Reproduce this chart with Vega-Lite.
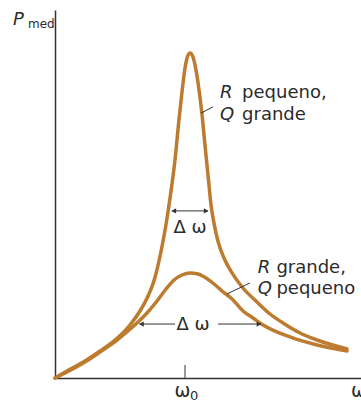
{
  "$schema": "https://vega.github.io/schema/vega-lite/v6.json",
  "width": 306,
  "height": 368,
  "autosize": "none",
  "padding": {"left": 55, "top": 10, "right": 0, "bottom": 25},
  "background": "white",
  "config": {"view": {"stroke": null}},
  "datasets": {
    "curves": [
      {"curve": "sharp", "w": 0, "P": 0},
      {"curve": "sharp", "w": 0.091, "P": 2.15},
      {"curve": "sharp", "w": 0.227, "P": 5.23},
      {"curve": "sharp", "w": 0.341, "P": 8.31},
      {"curve": "sharp", "w": 0.455, "P": 11.69},
      {"curve": "sharp", "w": 0.568, "P": 16.31},
      {"curve": "sharp", "w": 0.644, "P": 20.6},
      {"curve": "sharp", "w": 0.705, "P": 25.2},
      {"curve": "sharp", "w": 0.75, "P": 29.9},
      {"curve": "sharp", "w": 0.785, "P": 35.5},
      {"curve": "sharp", "w": 0.818, "P": 42.0},
      {"curve": "sharp", "w": 0.856, "P": 51.08},
      {"curve": "sharp", "w": 0.879, "P": 57.5},
      {"curve": "sharp", "w": 0.909, "P": 67.08},
      {"curve": "sharp", "w": 0.939, "P": 79.38},
      {"curve": "sharp", "w": 0.962, "P": 88.0},
      {"curve": "sharp", "w": 0.985, "P": 95.38},
      {"curve": "sharp", "w": 1.008, "P": 99.38},
      {"curve": "sharp", "w": 1.023, "P": 100},
      {"curve": "sharp", "w": 1.045, "P": 98.77},
      {"curve": "sharp", "w": 1.068, "P": 94.77},
      {"curve": "sharp", "w": 1.091, "P": 88.62},
      {"curve": "sharp", "w": 1.114, "P": 80.92},
      {"curve": "sharp", "w": 1.136, "P": 71.69},
      {"curve": "sharp", "w": 1.159, "P": 62.46},
      {"curve": "sharp", "w": 1.182, "P": 53.23},
      {"curve": "sharp", "w": 1.205, "P": 47.5},
      {"curve": "sharp", "w": 1.235, "P": 42.0},
      {"curve": "sharp", "w": 1.28, "P": 36.92},
      {"curve": "sharp", "w": 1.341, "P": 32.31},
      {"curve": "sharp", "w": 1.417, "P": 28.0},
      {"curve": "sharp", "w": 1.53, "P": 23.38},
      {"curve": "sharp", "w": 1.629, "P": 19.69},
      {"curve": "sharp", "w": 1.727, "P": 16.92},
      {"curve": "sharp", "w": 1.856, "P": 13.85},
      {"curve": "sharp", "w": 1.985, "P": 11.69},
      {"curve": "sharp", "w": 2.212, "P": 8.92},
      {"curve": "broad", "w": 0, "P": 0},
      {"curve": "broad", "w": 0.091, "P": 1.85},
      {"curve": "broad", "w": 0.227, "P": 4.92},
      {"curve": "broad", "w": 0.341, "P": 8.0},
      {"curve": "broad", "w": 0.47, "P": 11.69},
      {"curve": "broad", "w": 0.553, "P": 14.46},
      {"curve": "broad", "w": 0.621, "P": 16.92},
      {"curve": "broad", "w": 0.697, "P": 20.0},
      {"curve": "broad", "w": 0.773, "P": 23.69},
      {"curve": "broad", "w": 0.841, "P": 27.38},
      {"curve": "broad", "w": 0.902, "P": 30.15},
      {"curve": "broad", "w": 0.962, "P": 31.69},
      {"curve": "broad", "w": 1.023, "P": 32.31},
      {"curve": "broad", "w": 1.083, "P": 32.0},
      {"curve": "broad", "w": 1.144, "P": 30.77},
      {"curve": "broad", "w": 1.205, "P": 28.92},
      {"curve": "broad", "w": 1.265, "P": 26.77},
      {"curve": "broad", "w": 1.341, "P": 24.31},
      {"curve": "broad", "w": 1.424, "P": 20.62},
      {"curve": "broad", "w": 1.5, "P": 18.46},
      {"curve": "broad", "w": 1.576, "P": 16.31},
      {"curve": "broad", "w": 1.78, "P": 12.62},
      {"curve": "broad", "w": 1.985, "P": 10.15},
      {"curve": "broad", "w": 2.212, "P": 8.31}
    ],
    "widthArrows": [
      {"w": 0.885, "w2": 1.16, "P": 51.4},
      {"w": 0.64, "w2": 0.909, "P": 16.6},
      {"w": 1.235, "w2": 1.56, "P": 16.6}
    ],
    "headsLeft": [
      {"w": 0.9, "P": 51.4},
      {"w": 0.655, "P": 16.6}
    ],
    "headsRight": [
      {"w": 1.145, "P": 51.4},
      {"w": 1.545, "P": 16.6}
    ],
    "leaders": [
      {"w": 1.106, "w2": 1.197, "P": 81.5, "P2": 83.4},
      {"w": 1.303, "w2": 1.477, "P": 25.85, "P2": 29.23}
    ],
    "resonanceTick": [
      {"w": 0.985, "P": 0, "P2": 4}
    ],
    "italicLabels": [
      {"text": "R", "w": 1.25, "P": 86.15},
      {"text": "Q", "w": 1.25, "P": 79.5},
      {"text": "R", "w": 1.535, "P": 32.3},
      {"text": "Q", "w": 1.535, "P": 25.8}
    ],
    "plainLabels": [
      {"text": "pequeno,", "w": 1.417, "P": 86.15},
      {"text": "grande", "w": 1.417, "P": 79.5},
      {"text": "grande,", "w": 1.677, "P": 32.3},
      {"text": "pequeno", "w": 1.677, "P": 25.8}
    ],
    "deltaLabels": [
      {"text": "Δ ω", "w": 1.023, "P": 44.6},
      {"text": "Δ ω", "w": 1.045, "P": 14.77}
    ],
    "omegaLetters": [
      {"text": "ω", "w": 0.905, "P": -5.85},
      {"text": "ω", "w": 2.242, "P": -5.85}
    ],
    "omegaSub": [
      {"text": "0", "w": 1.022, "P": -6.9}
    ],
    "powerSymbol": [
      {"text": "P", "w": -0.318, "P": 108.6}
    ],
    "powerSub": [
      {"text": "med", "w": -0.205, "P": 107.7}
    ]
  },
  "encoding": {
    "x": {
      "field": "w",
      "type": "quantitative",
      "scale": {"domain": [0, 2.318], "nice": false, "zero": false},
      "axis": {"title": null, "grid": false, "ticks": false, "labels": false, "domainColor": "#333333", "domainWidth": 1.5}
    },
    "y": {
      "field": "P",
      "type": "quantitative",
      "scale": {"domain": [0, 113.2], "nice": false},
      "axis": {"title": null, "grid": false, "ticks": false, "labels": false, "domainColor": "#333333", "domainWidth": 1.5}
    }
  },
  "layer": [
    {
      "data": {"name": "curves"},
      "mark": {"type": "line", "interpolate": "monotone", "color": "#bd7b2f", "strokeWidth": 3.5, "strokeCap": "round", "clip": false},
      "encoding": {"detail": {"field": "curve"}}
    },
    {
      "data": {"name": "widthArrows"},
      "mark": {"type": "rule", "color": "#333333", "strokeWidth": 1},
      "encoding": {"x2": {"field": "w2"}}
    },
    {
      "data": {"name": "headsLeft"},
      "mark": {"type": "point", "shape": "triangle-left", "filled": true, "color": "#333333", "size": 28, "opacity": 1}
    },
    {
      "data": {"name": "headsRight"},
      "mark": {"type": "point", "shape": "triangle-right", "filled": true, "color": "#333333", "size": 28, "opacity": 1}
    },
    {
      "data": {"name": "leaders"},
      "mark": {"type": "rule", "color": "#333333", "strokeWidth": 1},
      "encoding": {"x2": {"field": "w2"}, "y2": {"field": "P2"}}
    },
    {
      "data": {"name": "resonanceTick"},
      "mark": {"type": "rule", "color": "#333333", "strokeWidth": 1},
      "encoding": {"y2": {"field": "P2"}}
    },
    {
      "data": {"name": "italicLabels"},
      "mark": {"type": "text", "font": "DejaVu Sans", "fontSize": 18, "fontStyle": "italic", "align": "left", "baseline": "alphabetic", "color": "#2b2b2b"},
      "encoding": {"text": {"field": "text"}}
    },
    {
      "data": {"name": "plainLabels"},
      "mark": {"type": "text", "font": "DejaVu Sans", "fontSize": 18, "align": "left", "baseline": "alphabetic", "color": "#2b2b2b"},
      "encoding": {"text": {"field": "text"}}
    },
    {
      "data": {"name": "deltaLabels"},
      "mark": {"type": "text", "font": "DejaVu Sans", "fontSize": 18, "align": "center", "baseline": "alphabetic", "color": "#2b2b2b"},
      "encoding": {"text": {"field": "text"}}
    },
    {
      "data": {"name": "omegaLetters"},
      "mark": {"type": "text", "font": "DejaVu Sans", "fontSize": 19, "align": "left", "baseline": "alphabetic", "color": "#2b2b2b"},
      "encoding": {"text": {"field": "text"}}
    },
    {
      "data": {"name": "omegaSub"},
      "mark": {"type": "text", "font": "DejaVu Sans", "fontSize": 13, "align": "left", "baseline": "alphabetic", "color": "#2b2b2b"},
      "encoding": {"text": {"field": "text"}}
    },
    {
      "data": {"name": "powerSymbol"},
      "mark": {"type": "text", "font": "DejaVu Sans", "fontSize": 18, "fontStyle": "italic", "align": "left", "baseline": "alphabetic", "color": "#2b2b2b"},
      "encoding": {"text": {"field": "text"}}
    },
    {
      "data": {"name": "powerSub"},
      "mark": {"type": "text", "font": "DejaVu Sans", "fontSize": 12, "align": "left", "baseline": "alphabetic", "color": "#2b2b2b"},
      "encoding": {"text": {"field": "text"}}
    }
  ]
}
